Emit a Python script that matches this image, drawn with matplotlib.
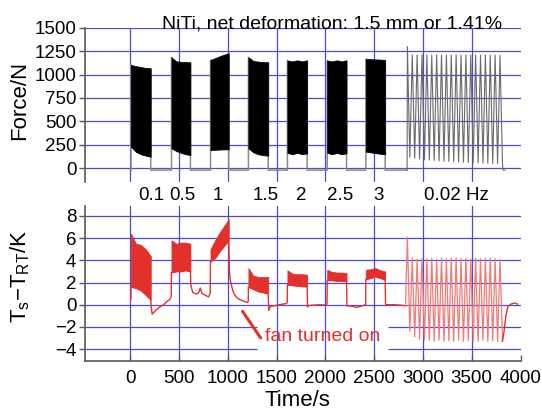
import numpy as np
import matplotlib
matplotlib.use('Agg')
import matplotlib.pyplot as plt
from matplotlib.transforms import blended_transform_factory

plt.rcParams['font.family'] = ['Liberation Sans', 'DejaVu Sans']
plt.rcParams['mathtext.fontset'] = 'custom'
plt.rcParams['mathtext.rm'] = 'Liberation Sans'
plt.rcParams['mathtext.it'] = 'Liberation Sans:italic'
plt.rcParams['mathtext.default'] = 'regular'

# ------------------------------------------------------------------ data
title = 'NiTi, net deformation: 1.5 mm or 1.41%'
freq_labels = ['0.1', '0.5', '1', '1.5', '2', '2.5', '3', '0.02 Hz']
freq_label_t = [211, 530, 900, 1392, 1752, 2152, 2548, 3343]

x_ticks = [0, 500, 1000, 1500, 2000, 2500, 3000, 3500, 4000]
force_ticks = [0, 250, 500, 750, 1000, 1250, 1500]
temp_ticks = [-4, -2, 0, 2, 4, 6, 8]

# fast-cycling bursts (s)
burst_start = [6, 421, 821, 1210, 1610, 2018, 2414]
burst_end = [208, 615, 1008, 1413, 1812, 2216, 2612]

# force envelopes (N), 5 samples across each burst
force_upper = [[1102, 1090, 1080, 1070, 1067],
               [1184, 1140, 1136, 1133, 1131],
               [1156, 1175, 1195, 1212, 1227],
               [1184, 1145, 1138, 1133, 1131],
               [1150, 1140, 1152, 1140, 1152],
               [1150, 1140, 1152, 1140, 1152],
               [1166, 1164, 1162, 1160, 1156]]
force_lower = [[231, 175, 150, 135, 124],
               [213, 185, 165, 150, 142],
               [196, 198, 200, 202, 203],
               [213, 170, 150, 140, 135],
               [165, 150, 165, 150, 160],
               [165, 150, 165, 150, 160],
               [178, 170, 162, 155, 150]]
force_rest = -20

# temperature envelopes (K), 5 samples across each burst
temp_upper = [[6.4, 5.5, 5.4, 5.0, 4.4],
              [5.8, 5.5, 5.6, 5.6, 5.5],
              [5.0, 5.8, 6.5, 7.1, 7.7],
              [3.3, 2.6, 2.5, 2.5, 2.5],
              [3.1, 2.8, 2.75, 2.75, 2.7],
              [3.15, 2.95, 2.9, 2.9, 2.85],
              [3.15, 3.2, 3.3, 3.1, 3.0]]
temp_lower = [[1.6, 1.5, 1.3, 0.9, 0.45],
              [2.9, 3.0, 3.0, 3.1, 3.0],
              [3.9, 4.2, 4.8, 5.3, 5.8],
              [1.6, 1.4, 1.2, 1.1, 1.0],
              [1.8, 1.75, 1.7, 1.65, 1.65],
              [2.2, 2.2, 2.15, 2.15, 2.1],
              [2.3, 2.4, 2.55, 2.4, 2.25]]

# temperature in the pauses before / between bursts (s, K)
temp_gap_t = [[0, 5],
              [215, 222, 250, 280, 310, 340, 370, 400, 418],
              [620, 640, 680, 700, 716, 735, 770, 800, 818],
              [1015, 1022, 1040, 1060, 1100, 1150, 1200, 1208],
              [1418, 1425, 1440, 1500, 1560, 1600, 1608],
              [1816, 1822, 1850, 1950, 2010, 2016],
              [2220, 2228, 2280, 2320, 2380, 2412],
              [2616, 2622, 2700, 2780, 2821]]
temp_gap_v = [[0.45, 0.5],
              [-0.3, -0.85, -0.6, -0.35, -0.15, 0.0, 0.25, 0.45, 0.7],
              [1.7, 1.1, 0.95, 1.1, 1.5, 1.0, 0.85, 0.7, 1.0],
              [3.0, 2.3, 1.6, 1.0, 0.55, 0.35, 0.2, 0.3],
              [-0.5, -0.3, -0.15, -0.05, 0.05, 0.1, 0.2],
              [-0.2, -0.1, -0.05, 0.0, -0.05, 0.1],
              [-0.1, -0.1, -0.15, -0.25, -0.1, 0.0],
              [0.05, 0.0, 0.0, -0.05, -0.1]]

# slow 0.02 Hz section: peaks and troughs of each cycle
slow_peak_t = [2840, 2890, 2940, 2990, 3040, 3090, 3140, 3190, 3240, 3290,
               3340, 3390, 3440, 3490, 3540, 3590, 3640, 3690, 3740, 3790]
slow_trough_t = [2865, 2915, 2965, 3015, 3065, 3115, 3165, 3215, 3265, 3315,
                 3365, 3415, 3465, 3515, 3565, 3615, 3665, 3715, 3765, 3815]
force_slow_peak = [1300, 1212, 1210, 1212, 1210, 1208, 1210, 1209, 1210, 1208,
                   1210, 1208, 1209, 1207, 1208, 1206, 1207, 1206, 1207, 1205]
force_slow_trough = [118, 108, 98, 92, 88, 84, 80, 76, 73, 70,
                     67, 64, 62, 60, 57, 55, 53, 51, 49, 47]
temp_slow_peak = [6.1, 4.2, 4.1, 4.2, 4.15, 4.2, 4.1, 4.2, 4.15, 4.2,
                  4.2, 4.15, 4.2, 4.1, 4.2, 4.15, 4.2, 4.2, 4.15, 4.1]
temp_slow_trough = [-2.4, -2.9, -3.1, -3.2, -3.2, -3.3, -3.2, -3.3, -3.25, -3.3,
                    -3.2, -3.3, -3.25, -3.3, -3.3, -3.2, -3.3, -3.25, -3.3, -3.3]
slow_begin = 2821
force_end_t = [3822, 3840]
temp_recover_t = [3830, 3850, 3870, 3900, 3940, 3970]
temp_recover_v = [-2.5, -1.0, -0.2, 0.05, 0.15, 0.05]

# annotation
fan_text = 'fan turned on'

# ------------------------------------------------------------------ style
grid_c = '#4a4ad2'
spine_c = '#5a5a5a'
red = '#e4302a'
light_red = '#f07a76'
gray_line = '#8a8a8a'
W, H = 542, 411

fig = plt.figure(figsize=(W / 100, H / 100), dpi=100)
ax1 = fig.add_axes([85 / W, 1 - 181.7 / H, 435.5 / W, (181.7 - 27.7) / H])
ax2 = fig.add_axes([85 / W, 1 - 360.7 / H, 435.5 / W, (360.7 - 206) / H])

for ax in (ax1, ax2):
    ax.set_xlim(-466, 4000)
    for s in ('top', 'right'):
        ax.spines[s].set_visible(False)
    ax.spines['left'].set_color(spine_c)
    ax.spines['left'].set_linewidth(1.2)
    ax.tick_params(axis='y', direction='out', length=4, width=1.0, color=spine_c,
                   pad=2.2, labelsize=13.5)
    for xv in x_ticks[:-1]:
        ax.axvline(xv, color=grid_c, lw=0.9, zorder=0)

ax1.spines['bottom'].set_visible(False)
ax1.set_ylim(-143, 1500)
ax1.set_yticks(force_ticks)
ax1.set_xticks([])
for yv in force_ticks:
    ax1.axhline(yv, color=grid_c, lw=0.9, zorder=0)

ax2.set_ylim(-5.05, 8.9)
ax2.set_yticks(temp_ticks)
ax2.set_xticks(x_ticks)
ax2.spines['bottom'].set_color(spine_c)
ax2.spines['bottom'].set_linewidth(1.2)
ax2.tick_params(axis='x', direction='in', length=4, width=1.0, color=spine_c,
                pad=7, labelsize=13.5)
gap = (1300, 2645)
for yv in temp_ticks:
    if yv in (-2, -4):
        ax2.hlines(yv, -466, gap[0], color=grid_c, lw=0.9, zorder=0)
        ax2.hlines(yv, gap[1], 4000, color=grid_c, lw=0.9, zorder=0)
    else:
        ax2.axhline(yv, color=grid_c, lw=0.9, zorder=0)

# ------------------------------------------------------------------ force
ft, fv = [], []
for i in range(len(burst_start)):
    ft += [burst_start[i], burst_start[i], burst_end[i], burst_end[i]]
    fv += [force_rest, force_upper[i][0], force_lower[i][-1], force_rest]
ft += [slow_begin, slow_peak_t[0] - 3]
fv += [force_rest, force_rest]
ax1.plot(ft, fv, color=gray_line, lw=1.1, zorder=2)
for i in range(len(burst_start)):
    tt = np.linspace(burst_start[i], burst_end[i], len(force_upper[i]))
    ax1.fill_between(tt, force_lower[i], force_upper[i], color='black', lw=0.6,
                     edgecolor='black', zorder=3)
st = [slow_peak_t[0] - 3]
sv = [force_rest]
for k in range(len(slow_peak_t)):
    st += [slow_peak_t[k], slow_trough_t[k]]
    sv += [force_slow_peak[k], force_slow_trough[k]]
st += force_end_t
sv += [force_rest, force_rest]
ax1.plot(st, sv, color='#6a6a6a', lw=0.8, zorder=3)

# ------------------------------------------------------------------ temperature
tt_all, tv_all = [], []
for i in range(len(burst_start)):
    tt_all += temp_gap_t[i]
    tv_all += temp_gap_v[i]
    tt = np.linspace(burst_start[i], burst_end[i], len(temp_lower[i]))
    tt_all += list(tt)
    tv_all += temp_lower[i]
    ax2.fill_between(tt, temp_lower[i], temp_upper[i], color=red, lw=0.6,
                     edgecolor=red, zorder=3)
tt_all += temp_gap_t[-1]
tv_all += temp_gap_v[-1]
ax2.plot(tt_all, tv_all, color=red, lw=1.0, zorder=2)

st = [temp_gap_t[-1][-1]]
sv = [temp_gap_v[-1][-1]]
for k in range(len(slow_peak_t)):
    st += [slow_peak_t[k], slow_trough_t[k]]
    sv += [temp_slow_peak[k], temp_slow_trough[k]]
ax2.plot(st, sv, color=light_red, lw=0.9, zorder=3)
ax2.plot([slow_trough_t[-1]] + temp_recover_t, [temp_slow_trough[-1]] + temp_recover_v,
         color=red, lw=1.0, zorder=3)

# ------------------------------------------------------------------ texts
ax1.text(3815, 1539, title, ha='right', va='center', fontsize=14)
trans = blended_transform_factory(ax1.transData, fig.transFigure)
for lab, tx in zip(freq_labels, freq_label_t):
    fig.text(tx, 1 - 195 / H, lab, transform=trans, ha='center', va='center',
             fontsize=13.5)

ax2.annotate('', xy=(1150, -0.6), xytext=(1335, -3.0),
             arrowprops=dict(arrowstyle='-', color=red, lw=2.2,
                             shrinkA=0, shrinkB=0))
ax2.text(1382, -2.85, fan_text, color=red, ha='left', va='center', fontsize=14)

fig.text(20 / W, 1 - 100 / H, 'Force/N', rotation=90, ha='center', va='center',
         fontsize=16)
fig.text(20 / W, 1 - 276 / H, 'T$_{s}$\u2212T$_{RT}$/K', rotation=90, ha='center',
         va='center', fontsize=16)
fig.text(297 / W, 1 - 400 / H, 'Time/s', ha='center', va='center', fontsize=16)

fig.savefig('out.png', dpi=100)
